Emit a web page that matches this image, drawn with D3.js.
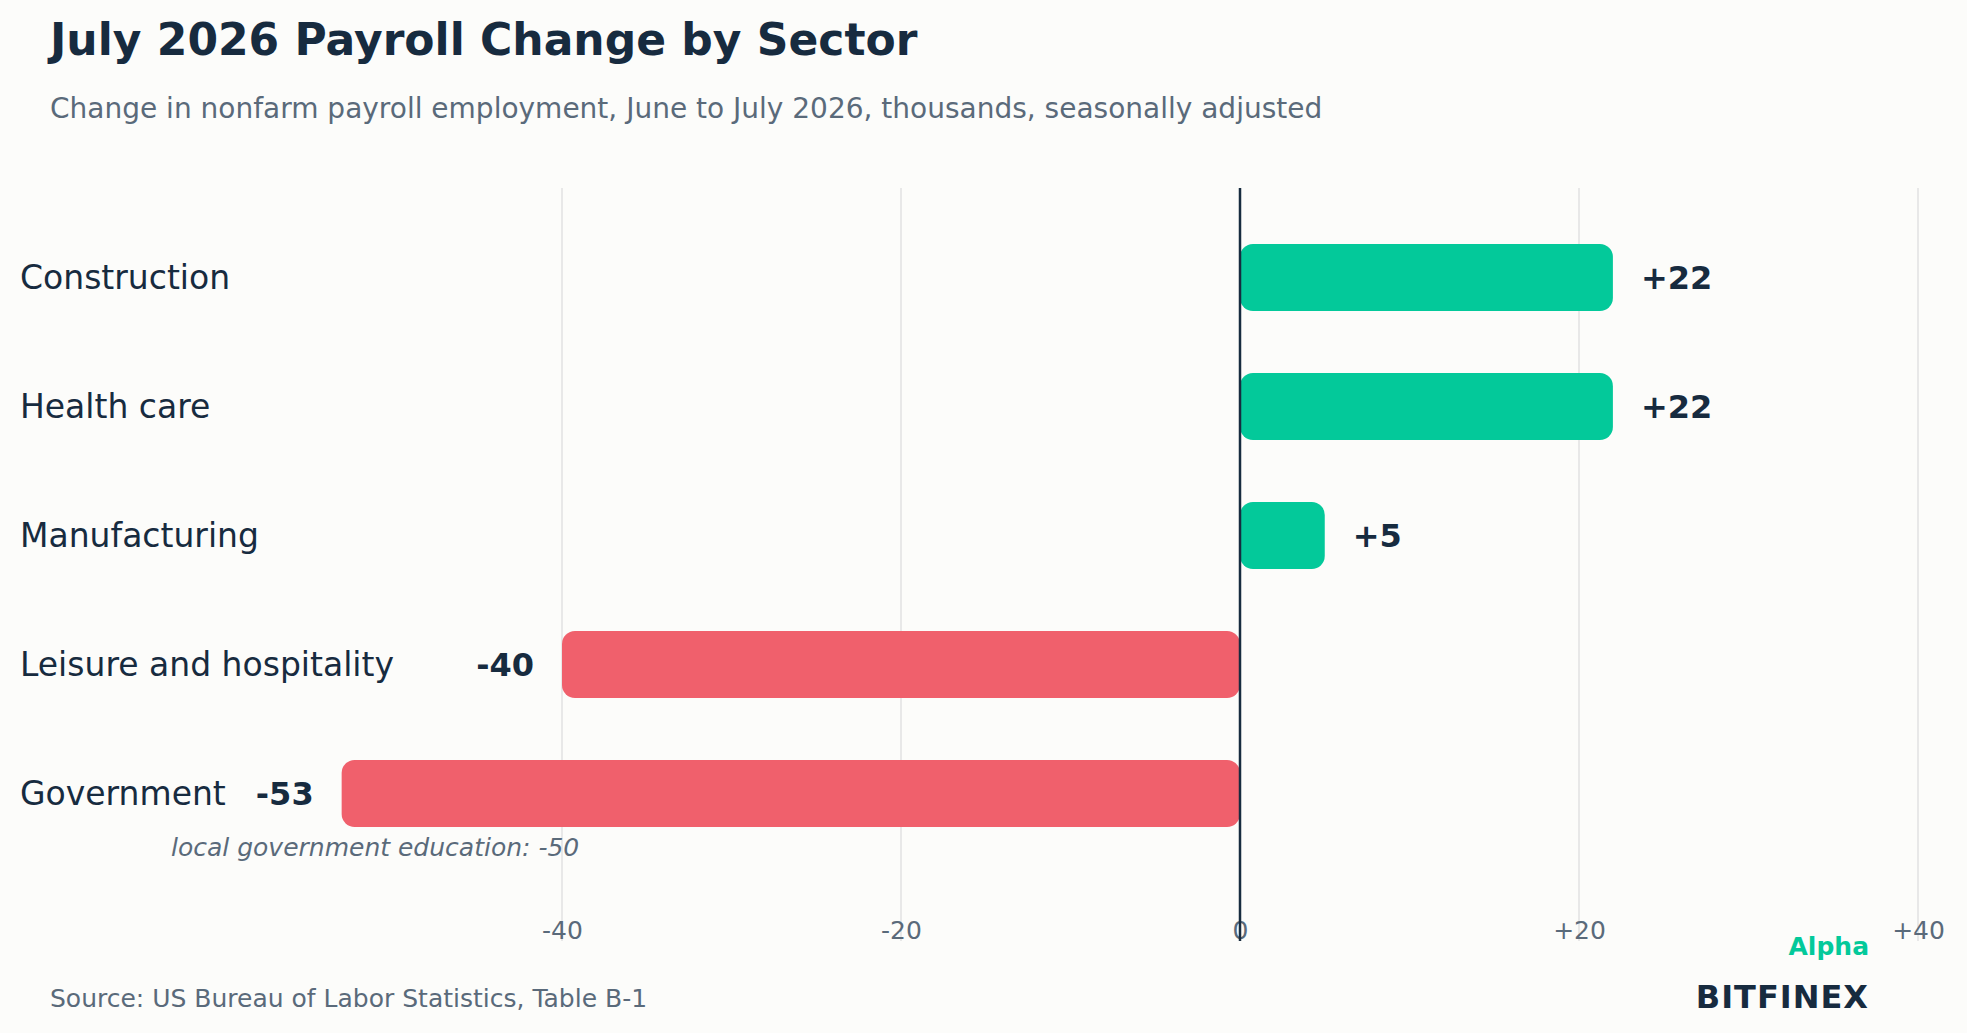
<!DOCTYPE html><html><head><meta charset="utf-8"><script src="https://cdn.jsdelivr.net/npm/d3@7"></script>
<style>body{margin:0;background:#fcfcfa}svg{display:block;font-family:"DejaVu Sans",sans-serif}</style></head><body>
<script>
const categories=["Construction","Health care","Manufacturing","Leisure and hospitality","Government"];
const values=[22,22,5,-40,-53];
const tickValues=[-40,-20,0,20,40];
const tickLabels=["-40","-20","0","+20","+40"];
const W=1967,H=1033;
const svg=d3.select("body").append("svg").attr("width",W).attr("height",H);
svg.append("rect").attr("width",W).attr("height",H).attr("fill","#fcfcfa");
const x=d3.scaleLinear().domain([-40,40]).range([562,1918]);
const y=d3.scaleBand().domain(categories).range([213,858]).paddingInner(0.48).paddingOuter(0.24);
const dark="#172b3f",grey="#5a6a7a";
svg.append("text").attr("x",50).attr("y",55).attr("font-size",44).attr("font-weight","bold").attr("fill",dark).text("July 2026 Payroll Change by Sector");
svg.append("text").attr("x",50).attr("y",118).attr("font-size",28).attr("fill",grey).text("Change in nonfarm payroll employment, June to July 2026, thousands, seasonally adjusted");
svg.selectAll(".g").data(tickValues).enter().append("line").attr("x1",d=>x(d)).attr("x2",d=>x(d)).attr("y1",188).attr("y2",941).attr("stroke","#e2e2e2").attr("stroke-width",1.5);
const ax=svg.append("g").attr("transform","translate(0,918)").call(d3.axisBottom(x).tickValues(tickValues).tickFormat((d,i)=>tickLabels[i]).tickSize(0));
ax.select(".domain").remove();
ax.selectAll("text").attr("font-size",25).attr("fill",grey).attr("font-family","DejaVu Sans");
svg.selectAll(".bar").data(values).enter().append("rect")
 .attr("x",d=>x(Math.min(0,d))).attr("width",d=>Math.abs(x(d)-x(0)))
 .attr("y",(d,i)=>y(categories[i])).attr("height",y.bandwidth()).attr("rx",13)
 .attr("fill",d=>d>=0?"#03c99a":"#f0606c");
svg.append("line").attr("x1",x(0)).attr("x2",x(0)).attr("y1",188).attr("y2",941).attr("stroke",dark).attr("stroke-width",2.5);
svg.selectAll(".cat").data(categories).enter().append("text").attr("x",20).attr("y",d=>y(d)+y.bandwidth()/2).attr("dy","0.35em").attr("font-size",33).attr("fill",dark).text(d=>d);
svg.selectAll(".val").data(values).enter().append("text")
 .attr("x",d=>d>=0?x(d)+28:x(d)-28).attr("text-anchor",d=>d>=0?"start":"end")
 .attr("y",(d,i)=>y(categories[i])+y.bandwidth()/2).attr("dy","0.35em")
 .attr("font-size",32).attr("font-weight","bold").attr("fill",dark).text(d=>(d>0?"+":"")+d);
svg.append("text").attr("x",171).attr("y",856).attr("font-size",25).attr("font-style","italic").attr("fill",grey).text("local government education: -50");
svg.append("text").attr("x",50).attr("y",1007).attr("font-size",25).attr("fill",grey).text("Source: US Bureau of Labor Statistics, Table B-1");
svg.append("text").attr("x",1869).attr("y",955).attr("text-anchor","end").attr("font-size",25).attr("font-weight","bold").attr("fill","#03c99a").text("Alpha");
svg.append("text").attr("x",1869).attr("y",1008).attr("text-anchor","end").attr("font-size",32).attr("font-weight","bold").attr("fill",dark).attr("letter-spacing",1).text("BITFINEX");
</script></body></html>
